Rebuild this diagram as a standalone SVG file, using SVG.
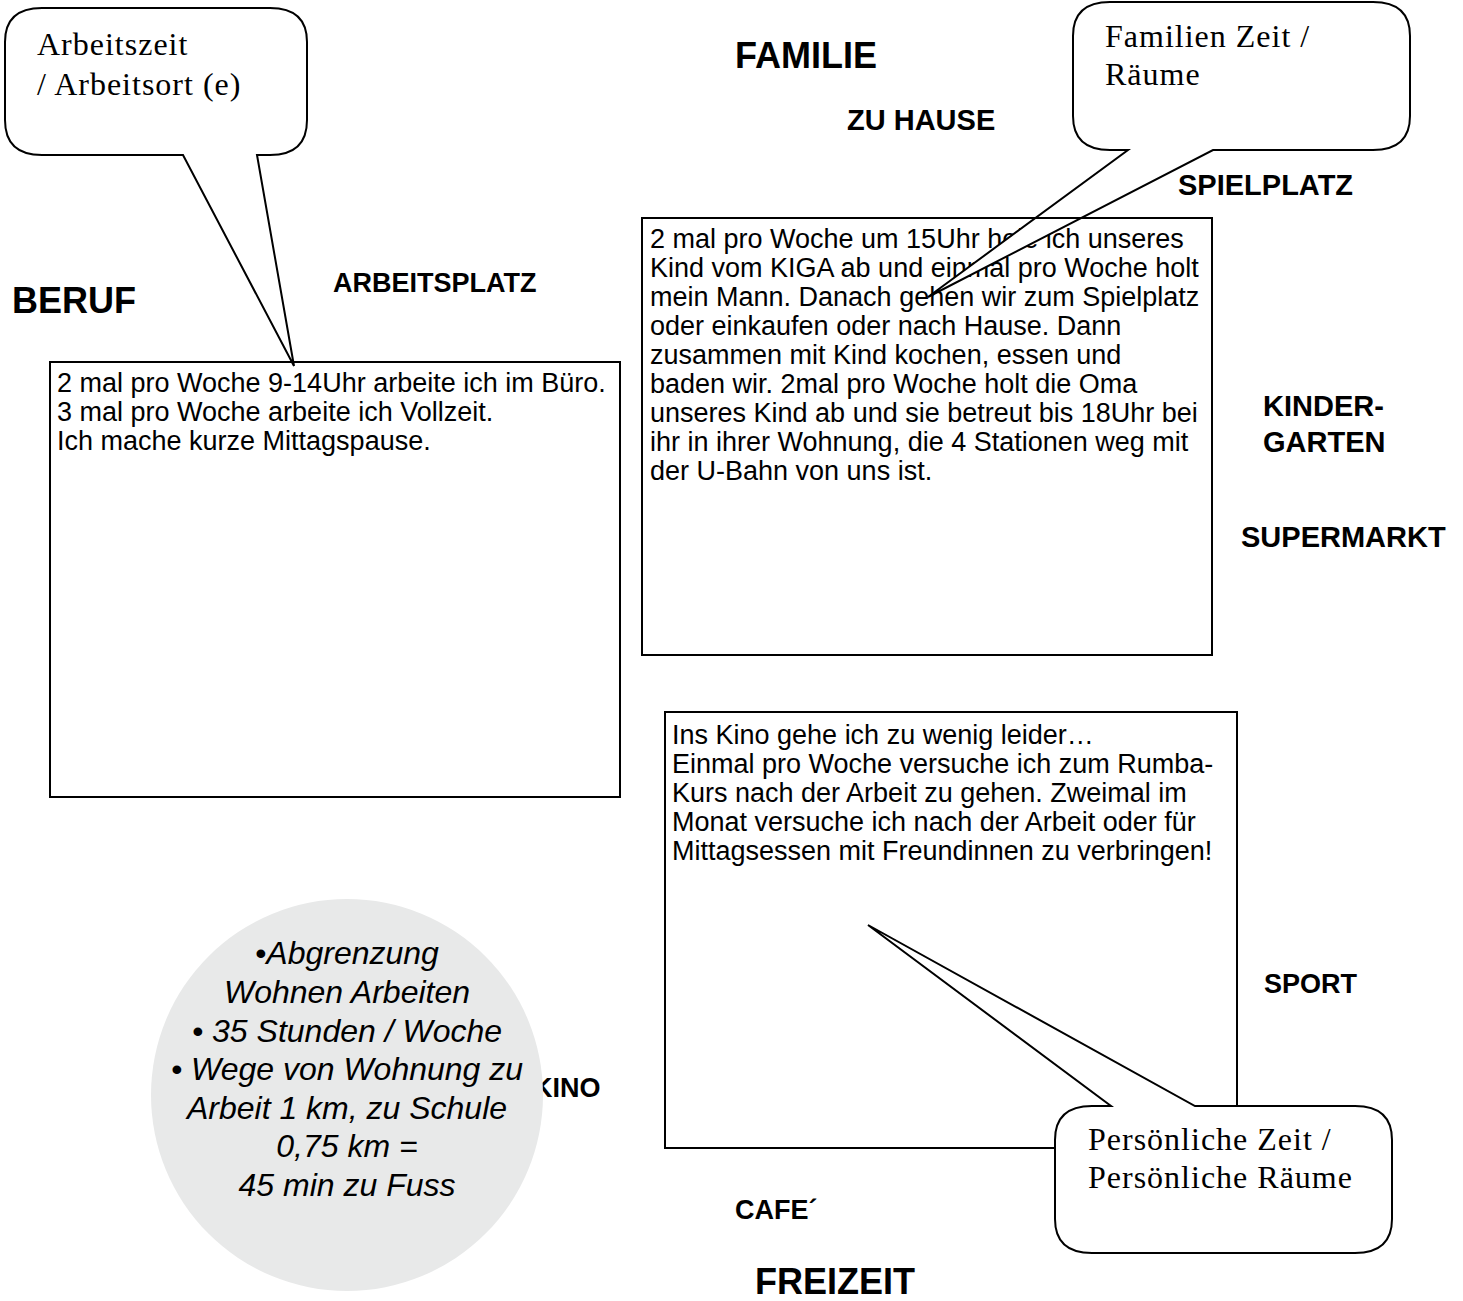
<svg xmlns="http://www.w3.org/2000/svg" width="1463" height="1301" viewBox="0 0 1463 1301">
  <style>
    .box { fill: #fff; stroke: none; }
    .frame { fill: none; stroke: #000; stroke-width: 2; }
    .body { font-family: "Liberation Sans", Arial, sans-serif; font-size: 27px; fill: #000; }
    .lbl { font-family: "Liberation Sans", Arial, sans-serif; font-weight: bold; fill: #000; }
    .big { font-size: 36px; }
    .mid { font-size: 29px; }
    .sml { font-size: 27px; }
    .call { fill: #fff; stroke: #000; stroke-width: 2; stroke-linejoin: miter; }
    .ctext { font-family: "Liberation Serif", "Times New Roman", serif; font-size: 32px; letter-spacing: 1px; fill: #000; }
    .disc { fill: #e8e9e9; }
    .dtext { font-family: "Liberation Sans", Arial, sans-serif; font-style: italic; font-size: 32px; text-anchor: middle; fill: #000; }
  </style>
  <rect width="1463" height="1301" fill="#fff"/>

  <!-- section headings and place labels -->
  <g id="labels">
    <text class="lbl big" x="735" y="68">FAMILIE</text>
    <text class="lbl mid" x="847" y="130">ZU HAUSE</text>
    <text class="lbl mid" x="1178" y="195">SPIELPLATZ</text>
    <text class="lbl sml" x="333" y="292">ARBEITSPLATZ</text>
    <text class="lbl big" x="12" y="313">BERUF</text>
    <text class="lbl mid" x="1263" y="416">KINDER-</text>
    <text class="lbl mid" x="1263" y="452">GARTEN</text>
    <text class="lbl mid" x="1241" y="547">SUPERMARKT</text>
    <text class="lbl sml" x="1264" y="993">SPORT</text>
    <text class="lbl sml" x="533" y="1097">KINO</text>
    <text class="lbl sml" x="735" y="1219">CAFE´</text>
    <text class="lbl big" x="755" y="1294">FREIZEIT</text>
  </g>

  <!-- work text box -->
  <g id="box-beruf">
    <rect class="box" x="50" y="362" width="570" height="435"/>
    <text class="body" x="57" y="392">2 mal pro Woche 9-14Uhr arbeite ich im Büro.</text>
    <text class="body" x="57" y="421">3 mal pro Woche arbeite ich Vollzeit.</text>
    <text class="body" x="57" y="450">Ich mache kurze Mittagspause.</text>
    <rect class="frame" x="50" y="362" width="570" height="435"/>
  </g>

  <!-- family text box -->
  <g id="box-familie">
    <rect class="box" x="642" y="218" width="570" height="437"/>
    <text class="body" x="650" y="248">2 mal pro Woche um 15Uhr hole ich unseres</text>
    <text class="body" x="650" y="277">Kind vom KIGA ab und einmal pro Woche holt</text>
    <text class="body" x="650" y="306">mein Mann. Danach gehen wir zum Spielplatz</text>
    <text class="body" x="650" y="335">oder einkaufen oder nach Hause. Dann</text>
    <text class="body" x="650" y="364">zusammen mit Kind kochen, essen und</text>
    <text class="body" x="650" y="393">baden wir. 2mal pro Woche holt die Oma</text>
    <text class="body" x="650" y="422">unseres Kind ab und sie betreut bis 18Uhr bei</text>
    <text class="body" x="650" y="451">ihr in ihrer Wohnung, die 4 Stationen weg mit</text>
    <text class="body" x="650" y="480">der U-Bahn von uns ist.</text>
  </g>

  <!-- leisure text box -->
  <g id="box-freizeit">
    <rect class="box" x="665" y="712" width="572" height="436"/>
    <text class="body" x="672" y="744">Ins Kino gehe ich zu wenig leider…</text>
    <text class="body" x="672" y="773">Einmal pro Woche versuche ich zum Rumba-</text>
    <text class="body" x="672" y="802">Kurs nach der Arbeit zu gehen. Zweimal im</text>
    <text class="body" x="672" y="831">Monat versuche ich nach der Arbeit oder für</text>
    <text class="body" x="672" y="860">Mittagsessen mit Freundinnen zu verbringen!</text>
    <rect class="frame" x="665" y="712" width="572" height="436"/>
  </g>

  <!-- speech bubble: working time -->
  <g id="callout-arbeit">
    <path class="call" d="M 42,8 H 270 C 296,8 307,20 307,42 V 120 C 307,142 296,155 270,155 H 257 L 294,366 L 183,155 H 42 C 16,155 5,142 5,120 V 42 C 5,20 16,8 42,8 Z"/>
    <text class="ctext" x="37" y="55">Arbeitszeit</text>
    <text class="ctext" x="37" y="95">/ Arbeitsort (e)</text>
  </g>

  <!-- speech bubble: family time -->
  <g id="callout-familie">
    <path class="call" d="M 1110,2 H 1373 C 1399,2 1410,14 1410,36 V 116 C 1410,138 1399,150 1373,150 H 1213 L 928,297 L 1128,150 H 1110 C 1084,150 1073,138 1073,116 V 36 C 1073,14 1084,2 1110,2 Z"/>
    <text class="ctext" x="1105" y="47">Familien Zeit /</text>
    <text class="ctext" x="1105" y="85">Räume</text>
  </g>
  <rect class="frame" x="642" y="218" width="570" height="437"/>

  <!-- speech bubble: personal time -->
  <g id="callout-persoenlich">
    <path class="call" d="M 1092,1106 H 1111 L 868,925 L 1195,1106 H 1355 C 1381,1106 1392,1118 1392,1140 V 1219 C 1392,1241 1381,1253 1355,1253 H 1092 C 1066,1253 1055,1241 1055,1219 V 1140 C 1055,1118 1066,1106 1092,1106 Z"/>
    <text class="ctext" x="1088" y="1150">Persönliche Zeit /</text>
    <text class="ctext" x="1088" y="1188">Persönliche Räume</text>
  </g>

  <!-- grey summary disc -->
  <g id="disc-summary">
    <circle class="disc" cx="347" cy="1095" r="196"/>
    <text class="dtext" x="347" y="964">•Abgrenzung</text>
    <text class="dtext" x="347" y="1003">Wohnen Arbeiten</text>
    <text class="dtext" x="347" y="1042">• 35 Stunden / Woche</text>
    <text class="dtext" x="347" y="1080">• Wege von Wohnung zu</text>
    <text class="dtext" x="347" y="1119">Arbeit 1 km, zu Schule</text>
    <text class="dtext" x="347" y="1157">0,75 km =</text>
    <text class="dtext" x="347" y="1196">45 min zu Fuss</text>
  </g>
</svg>
